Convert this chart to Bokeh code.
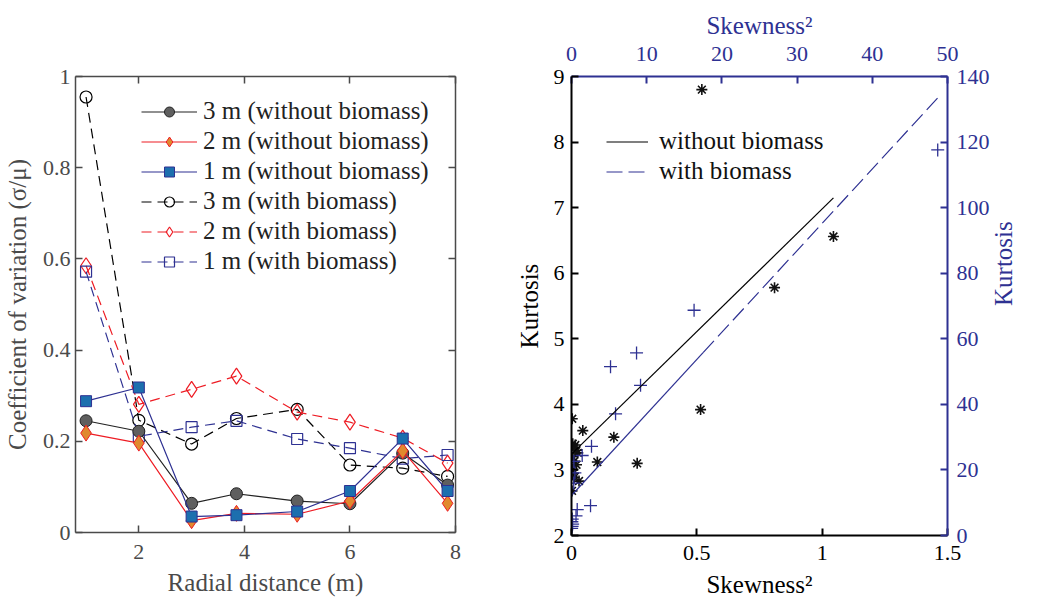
from bokeh.plotting import figure
from bokeh.models import Range1d, LinearAxis, FixedTicker, Legend, LegendItem, CustomLabelingPolicy
from bokeh.layouts import row
from bokeh.embed import file_html
from bokeh.resources import INLINE
import numpy as np

FONT = "Liberation Serif"

# ---------------- left panel data ----------------
radial = [1, 2, 3, 3.85, 5, 6, 7, 7.85]
cv_3m_without = [0.245, 0.222, 0.064, 0.085, 0.069, 0.063, 0.174, 0.104]
cv_2m_without = [0.218, 0.196, 0.026, 0.042, 0.040, 0.069, 0.179, 0.064]
cv_1m_without = [0.288, 0.318, 0.035, 0.038, 0.046, 0.091, 0.206, 0.091]
cv_3m_with = [0.955, 0.246, 0.194, 0.250, 0.270, 0.148, 0.141, 0.123]
cv_2m_with = [0.585, 0.281, 0.314, 0.343, 0.264, 0.242, 0.207, 0.152]
cv_1m_with = [0.572, 0.211, 0.231, 0.245, 0.205, 0.185, 0.162, 0.170]
left_x_ticks = [2, 4, 6, 8]
left_y_ticks = [0, 0.2, 0.4, 0.6, 0.8, 1]

# ---------------- right panel data ----------------
skew2_without = [0.52, 1.045, 0.81, 0.515, 0.262, 0.169, 0.103, 0.045,
                 0.003, 0.005, 0.015, 0.010, 0.020, 0.025, 0.005, 0.010,
                 0.020, 0.004, 0.008, 0.030, 0.010, 0.002]
kurt_without = [8.80, 6.56, 5.78, 3.92, 3.10, 3.50, 3.12, 3.60,
                3.78, 3.40, 3.38, 3.33, 3.30, 3.26, 3.20, 3.13,
                3.08, 3.00, 2.95, 2.83, 2.88, 2.68]
skew2_with = [48.7, 16.3, 8.65, 5.19, 9.18, 5.86, 2.66, 1.42, 0.32, 0.45,
              0.30, 2.53, 0.76, 0.60, 0.10, 0.05, 0.15, 0.08, 0.02]
kurt_with = [117.6, 68.7, 55.7, 51.5, 45.8, 37.1, 27.2, 24.4, 22.6, 19.1,
             16.0, 9.1, 7.9, 6.0, 5.0, 4.2, 3.5, 2.8, 2.2]
fit_without = (3.24, 3.74)   # intercept, slope
fit_with = (12.2, 2.49)      # intercept, slope
solid_part_end = 17.5        # the with-biomass fit is drawn solid up to here
right_x_ticks = [0, 0.5, 1, 1.5]
right_y_ticks = [2, 3, 4, 5, 6, 7, 8, 9]
top_ticks = [0, 10, 20, 30, 40, 50]
right2_ticks = [0, 20, 40, 60, 80, 100, 120, 140]

GRAY = "#4a4a4a"
NAVY = "#2e3192"
RED = "#ee1c24"
ORANGE = "#e0892e"
STEEL = "#1c6fae"

HIDE_JS = """
for (const i of indices) {
    indices.unset(i)
}
return indices
"""


def style_axis(ax, color, width=1.5, labels=True):
    ax.axis_line_color = color
    ax.axis_line_width = width
    ax.major_tick_line_color = color
    ax.major_tick_line_width = width
    ax.major_tick_in = 7
    ax.major_tick_out = 0
    ax.minor_tick_line_color = None
    ax.major_label_text_font = FONT
    ax.major_label_text_font_size = "22px"
    ax.major_label_text_color = color
    ax.axis_label_text_font = FONT
    ax.axis_label_text_font_size = "25px"
    ax.axis_label_text_font_style = "normal"
    ax.axis_label_text_color = color
    if not labels:
        ax.major_label_policy = CustomLabelingPolicy(code=HIDE_JS)
        ax.major_label_standoff = 0


# ================= left panel =================
p1 = figure(frame_width=380, frame_height=456, x_range=Range1d(0.8, 8), y_range=Range1d(0, 1),
            output_backend="svg", toolbar_location=None,
            min_border_left=74, min_border_right=31, min_border_top=76, min_border_bottom=72)
p1.grid.grid_line_color = None
p1.outline_line_color = None

p1.xaxis.ticker = FixedTicker(ticks=left_x_ticks)
p1.yaxis.ticker = FixedTicker(ticks=left_y_ticks)
p1.yaxis.major_label_overrides = {0: "0", 1: "1"}
p1.xaxis.axis_label = "Radial distance (m)"
p1.yaxis.axis_label = "Coefficient of variation (σ/μ)"
style_axis(p1.xaxis[0], GRAY)
style_axis(p1.yaxis[0], GRAY)
p1.xaxis.major_label_standoff = 12
p1.xaxis.axis_label_standoff = 7
p1.yaxis.major_label_standoff = 5
p1.yaxis.axis_label_standoff = 9

ax_top1 = LinearAxis(ticker=FixedTicker(ticks=left_x_ticks))
style_axis(ax_top1, GRAY, labels=False)
p1.add_layout(ax_top1, "above")
ax_right1 = LinearAxis(ticker=FixedTicker(ticks=left_y_ticks))
style_axis(ax_right1, GRAY, labels=False)
p1.add_layout(ax_right1, "right")

DASH = "10 6"
MS = 12
# with biomass (dashed, open markers)
l3w = p1.line(radial, cv_3m_with, line_color="black", line_width=1.2, line_dash=DASH)
s3w = p1.scatter(radial, cv_3m_with, marker="circle", size=MS, fill_color=None,
                 line_color="black", line_width=1.2)
l2w = p1.line(radial, cv_2m_with, line_color=RED, line_width=1.2, line_dash=DASH)
s2w = p1.scatter(radial, cv_2m_with, marker="diamond", size=MS + 4, fill_color=None,
                 line_color=RED, line_width=1.2)
l1w = p1.line(radial, cv_1m_with, line_color=NAVY, line_width=1.2, line_dash=DASH)
s1w = p1.scatter(radial, cv_1m_with, marker="square", size=MS - 1, fill_color=None,
                 line_color=NAVY, line_width=1.2)
# without biomass (solid, filled markers)
l3 = p1.line(radial, cv_3m_without, line_color="#222222", line_width=1.2)
s3 = p1.scatter(radial, cv_3m_without, marker="circle", size=MS, fill_color="#5f5f5f",
                line_color="#222222", line_width=1)
l2 = p1.line(radial, cv_2m_without, line_color=RED, line_width=1.2)
s2 = p1.scatter(radial, cv_2m_without, marker="diamond", size=MS + 4, fill_color=ORANGE,
                line_color=RED, line_width=1)
l1 = p1.line(radial, cv_1m_without, line_color=NAVY, line_width=1.2)
s1 = p1.scatter(radial, cv_1m_without, marker="square", size=MS - 1, fill_color=STEEL,
                line_color=NAVY, line_width=1)

leg1 = Legend(items=[
    LegendItem(label="3 m (without biomass)", renderers=[l3, s3]),
    LegendItem(label="2 m (without biomass)", renderers=[l2, s2]),
    LegendItem(label="1 m (without biomass)", renderers=[l1, s1]),
    LegendItem(label="3 m (with biomass)", renderers=[l3w, s3w]),
    LegendItem(label="2 m (with biomass)", renderers=[l2w, s2w]),
    LegendItem(label="1 m (with biomass)", renderers=[l1w, s1w]),
], location=(66, 257))
leg1.border_line_color = None
leg1.background_fill_alpha = 0
leg1.label_text_font = FONT
leg1.label_text_font_size = "25px"
leg1.label_text_color = "#222222"
leg1.glyph_width = 56
leg1.glyph_height = 25
leg1.label_height = 25
leg1.spacing = 2
leg1.padding = 0
leg1.margin = 0
leg1.label_standoff = 6
p1.add_layout(leg1)

# ================= right panel =================
p2 = figure(frame_width=376, frame_height=459, x_range=Range1d(0, 1.5), y_range=Range1d(2, 9),
            output_backend="svg", toolbar_location=None,
            min_border_left=85, min_border_right=82, min_border_top=75, min_border_bottom=72)
p2.grid.grid_line_color = None
p2.outline_line_color = None
p2.extra_x_ranges = {"top": Range1d(0, 50)}
p2.extra_y_ranges = {"right": Range1d(0, 140)}

p2.xaxis.ticker = FixedTicker(ticks=right_x_ticks)
p2.xaxis.major_label_overrides = {0: "0", 1: "1"}
p2.yaxis.ticker = FixedTicker(ticks=right_y_ticks)
p2.xaxis.axis_label = "Skewness²"
p2.yaxis.axis_label = "Kurtosis"
style_axis(p2.xaxis[0], "black", width=2)
style_axis(p2.yaxis[0], "black", width=2)
p2.xaxis.major_label_standoff = 10
p2.xaxis.axis_label_standoff = 8
p2.yaxis.major_label_standoff = 7
p2.yaxis.axis_label_standoff = 8

ax_top2 = LinearAxis(x_range_name="top", ticker=FixedTicker(ticks=top_ticks),
                     axis_label="Skewness²")
style_axis(ax_top2, NAVY, width=2)
ax_top2.major_label_standoff = 16
ax_top2.axis_label_standoff = 5
p2.add_layout(ax_top2, "above")
ax_right2 = LinearAxis(y_range_name="right", ticker=FixedTicker(ticks=right2_ticks),
                       axis_label="Kurtosis")
style_axis(ax_right2, NAVY, width=2)
ax_right2.major_label_standoff = 9
ax_right2.axis_label_standoff = 11
if "axis_label_orientation" in ax_right2.properties():
    ax_right2.axis_label_orientation = np.pi / 2
p2.add_layout(ax_right2, "right")

p2.scatter(skew2_without, kurt_without, marker="asterisk", size=11,
           line_color="#111111", line_width=1.6)
p2.scatter(skew2_with, kurt_with, marker="cross", size=13, line_color=NAVY, line_width=1.3,
           x_range_name="top", y_range_name="right")

xa = np.array([0.0, max(skew2_without)])
lw = p2.line(xa, fit_without[0] + fit_without[1] * xa, line_color="black", line_width=1.2)

xb1 = np.array([0.0, solid_part_end])
xb2 = np.array([solid_part_end, max(skew2_with)])
p2.line(xb1, fit_with[0] + fit_with[1] * xb1, line_color=NAVY, line_width=1.2,
        x_range_name="top", y_range_name="right")
lb = p2.line(xb2, fit_with[0] + fit_with[1] * xb2, line_color=NAVY, line_width=1.2,
             line_dash="16 6", x_range_name="top", y_range_name="right")

leg2 = Legend(items=[
    LegendItem(label="without biomass", renderers=[lw]),
    LegendItem(label="with biomass", renderers=[lb]),
], location=(35, 350))
leg2.border_line_color = None
leg2.background_fill_alpha = 0
leg2.label_text_font = FONT
leg2.label_text_font_size = "25px"
leg2.label_text_color = "#111111"
leg2.glyph_width = 42
leg2.glyph_height = 25
leg2.label_height = 25
leg2.spacing = 2
leg2.padding = 0
leg2.margin = 0
leg2.label_standoff = 11
p2.add_layout(leg2)

layout = row(p1, p2)
open("out.html", "w").write(file_html(layout, INLINE))
